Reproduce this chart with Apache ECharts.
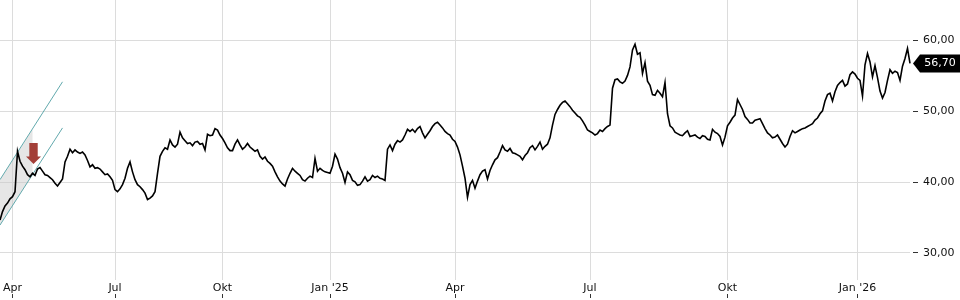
<!DOCTYPE html>
<html><head><meta charset="utf-8">
<script src="https://cdn.jsdelivr.net/npm/echarts@6/dist/echarts.min.js"></script>
<style>html,body{margin:0;padding:0;background:#fff}#c{width:960px;height:300px}</style>
</head><body><div id="c"></div>
<script>
// Quarter labels: each segment begins at the first trading day of that quarter
const segLabels = ['', 'Apr', 'Jul', 'Okt', "Jan '25", 'Apr', 'Jul', 'Okt', "Jan '26"];
const seg0 = [34.6, 35.8, 36.6, 37.0, 37.6];
const seg1 = [37.9, 38.6, 44.3, 42.9, 42.2, 41.7, 41.0, 40.7, 41.2, 40.9, 41.8, 42.0, 41.5, 41.0, 40.9, 40.6, 40.3, 39.8, 39.4, 39.9, 40.4, 42.8, 43.6, 44.6, 44.1, 44.5, 44.2, 44.0, 44.2, 43.8, 43.0, 42.1, 42.4, 41.9, 42.0, 41.8, 41.4, 41.0, 41.1, 40.7, 40.2];
const seg2 = [38.9, 38.6, 39.0, 39.6, 40.5, 41.9, 42.8, 41.4, 40.3, 39.6, 39.3, 38.9, 38.4, 37.5, 37.7, 38.0, 38.6, 41.2, 43.6, 44.3, 44.8, 44.6, 45.9, 45.2, 44.9, 45.3, 47.0, 46.2, 45.8, 45.4, 45.5, 45.1, 45.6, 45.7, 45.3, 45.4, 44.5, 46.7, 46.5, 46.6, 47.5, 47.3, 46.6];
const seg3 = [46.1, 45.5, 44.8, 44.4, 44.4, 45.3, 45.9, 45.2, 44.6, 44.9, 45.4, 44.9, 44.6, 44.3, 44.5, 43.6, 43.2, 43.5, 42.9, 42.6, 42.2, 41.4, 40.7, 40.1, 39.7, 39.4, 40.4, 41.2, 41.9, 41.5, 41.2, 40.9, 40.3, 40.1, 40.5, 40.8, 40.6, 43.3, 41.5, 41.9, 41.6, 41.4, 41.3];
const seg4 = [41.2, 42.2, 43.9, 43.2, 42.0, 41.2, 39.9, 41.4, 41.0, 40.2, 40.0, 39.5, 39.6, 40.1, 40.7, 40.1, 40.3, 40.9, 40.6, 40.8, 40.5, 40.4, 40.2, 44.6, 45.2, 44.4, 45.3, 45.8, 45.6, 45.9, 46.6, 47.4, 47.1, 47.4, 47.0, 47.5, 47.8, 46.9, 46.2, 46.7, 47.2, 47.8, 48.2, 48.4, 48.0, 47.6, 47.1, 46.8, 46.6, 46.0];
const seg5 = [45.7, 44.9, 43.8, 42.2, 40.5, 37.8, 39.6, 40.2, 39.1, 40.1, 41.0, 41.5, 41.7, 40.4, 41.6, 42.4, 43.1, 43.4, 44.2, 45.1, 44.5, 44.3, 44.7, 44.1, 44.0, 43.8, 43.6, 43.1, 43.7, 44.1, 44.8, 45.1, 44.5, 45.0, 45.6, 44.6, 45.0, 45.3, 46.2, 48.0, 49.5, 50.2, 50.8, 51.2, 51.4, 51.0, 50.6, 50.1, 49.7, 49.3, 49.1, 48.6, 48.0, 47.3];
const seg6 = [47.1, 46.9, 46.6, 46.8, 47.3, 47.1, 47.5, 47.8, 48.0, 53.2, 54.4, 54.5, 54.1, 53.9, 54.2, 55.0, 56.2, 58.6, 59.4, 58.0, 58.2, 55.3, 56.8, 54.2, 53.6, 52.3, 52.2, 52.9, 52.5, 52.0, 54.0, 49.6, 47.9, 47.6, 47.0, 46.8, 46.6, 46.5, 46.9, 47.2, 46.4, 46.5, 46.6, 46.3, 46.1, 46.5, 46.4, 46.0, 45.9, 47.4, 47.0, 46.8, 46.4, 45.2, 46.3];
const seg7 = [47.9, 48.4, 49.0, 49.4, 51.6, 50.9, 50.2, 49.2, 48.8, 48.3, 48.3, 48.7, 48.8, 48.9, 48.2, 47.5, 46.9, 46.6, 46.2, 46.3, 46.6, 46.0, 45.4, 44.9, 45.3, 46.4, 47.2, 46.9, 47.1, 47.3, 47.5, 47.6, 47.8, 48.0, 48.2, 48.7, 49.0, 49.6, 50.0, 51.4, 52.3, 52.5, 51.4, 52.7, 53.6, 54.0, 54.3, 53.5, 53.8, 55.1, 55.5, 55.2];
const seg8 = [54.6, 54.3, 52.1, 56.5, 58.1, 56.9, 54.8, 56.4, 54.7, 52.8, 51.8, 52.6, 54.3, 55.8, 55.3, 55.6, 55.4, 54.3, 56.3, 57.4, 58.8, 56.7];
const segments = [seg0, seg1, seg2, seg3, seg4, seg5, seg6, seg7, seg8];

const yTicks = [30, 40, 50, 60];
const lastPrice = 56.70;

// Trend channel (index, value) and highlighted zone, signal arrow
const channelUpper = [[0, 40.3], [25, 54.1]];
const channelLower = [[0, 33.9], [25, 47.6]];
const shadeBase = [[0, 33.9], [13, 41.0]];
const shadeBand = [[0, 6.4], [13, 6.4]];
const signal = [[13, 44.0]];

const categories = [];
const prices = [];
segments.forEach((s, k) => s.forEach((v, i) => {
  categories.push(i === 0 ? segLabels[k] : '');
  prices.push(v);
}));

const fmt = v => v.toFixed(2).replace('.', ',');
const isLabel = (i, v) => v !== '';
const FONT = 'DejaVu Sans';

const chart = echarts.init(document.getElementById('c'), null, {renderer: 'canvas'});
chart.setOption({
  animation: false,
  backgroundColor: '#fff',
  textStyle: {fontFamily: FONT},
  grid: {left: 0, right: 50, top: 0, bottom: 20, containLabel: false},
  xAxis: [{
    type: 'category', data: categories, boundaryGap: false,
    min: 0, max: categories.length - 1,
    axisLine: {show: false}, axisTick: {show: false},
    axisLabel: {interval: isLabel, margin: 3, color: '#111', fontSize: 11, fontFamily: FONT},
    splitLine: {show: true, interval: isLabel, lineStyle: {color: '#dcdcdc', width: 1}}
  }, {
    type: 'category', data: categories, boundaryGap: false, position: 'bottom', offset: 18,
    min: 0, max: categories.length - 1,
    axisLine: {show: false},
    axisTick: {show: true, inside: true, length: 4, interval: isLabel, lineStyle: {color: '#333'}},
    axisLabel: {show: false}, splitLine: {show: false}
  }],
  yAxis: {
    type: 'value', position: 'right', min: 26.15, max: 65.64, offset: 3,
    axisLine: {show: false},
    axisTick: {show: true, length: 5, customValues: yTicks, lineStyle: {color: '#333'}},
    axisLabel: {customValues: yTicks, margin: 10, color: '#111', fontSize: 11, fontFamily: FONT, formatter: fmt},
    splitLine: {show: true, lineStyle: {color: '#dcdcdc', width: 1}}
  },
  series: [
    {type: 'line', stack: 'zone', data: shadeBase, symbol: 'none', lineStyle: {width: 0, opacity: 0}, silent: true, z: 1},
    {type: 'line', stack: 'zone', data: shadeBand, symbol: 'none', lineStyle: {width: 0, opacity: 0},
     areaStyle: {color: 'rgba(200,200,200,0.65)'}, silent: true, z: 1},
    {type: 'line', data: channelUpper, symbol: 'none', lineStyle: {color: '#62a9ad', width: 1}, silent: true, z: 2},
    {type: 'line', data: channelLower, symbol: 'none', lineStyle: {color: '#62a9ad', width: 1}, silent: true, z: 2},
    {type: 'line', data: prices, symbol: 'none', lineStyle: {color: '#000', width: 1.6, join: 'miter'}, z: 3,
     markPoint: {
       silent: true,
       symbol: 'path://M0,9 L7,0 L48,0 L48,18 L7,18 Z',
       symbolSize: [48, 18], symbolKeepAspect: false, symbolOffset: [27, 0],
       itemStyle: {color: '#000'},
       label: {show: true, position: 'inside', offset: [3, 0], color: '#fff', fontSize: 11, fontFamily: FONT,
               formatter: () => fmt(lastPrice)},
       data: [{coord: [prices.length - 1, lastPrice]}]
     }},
    {type: 'scatter', data: signal, symbol: 'path://M3.3,0 L11.7,0 L11.7,13.3 L15,13.3 L7.5,20.7 L0,13.3 L3.3,13.3 Z',
     symbolSize: [15, 21], symbolOffset: [1, 0], itemStyle: {color: '#a33f38', opacity: 1}, silent: true, z: 4}
  ]
});
</script></body></html>
